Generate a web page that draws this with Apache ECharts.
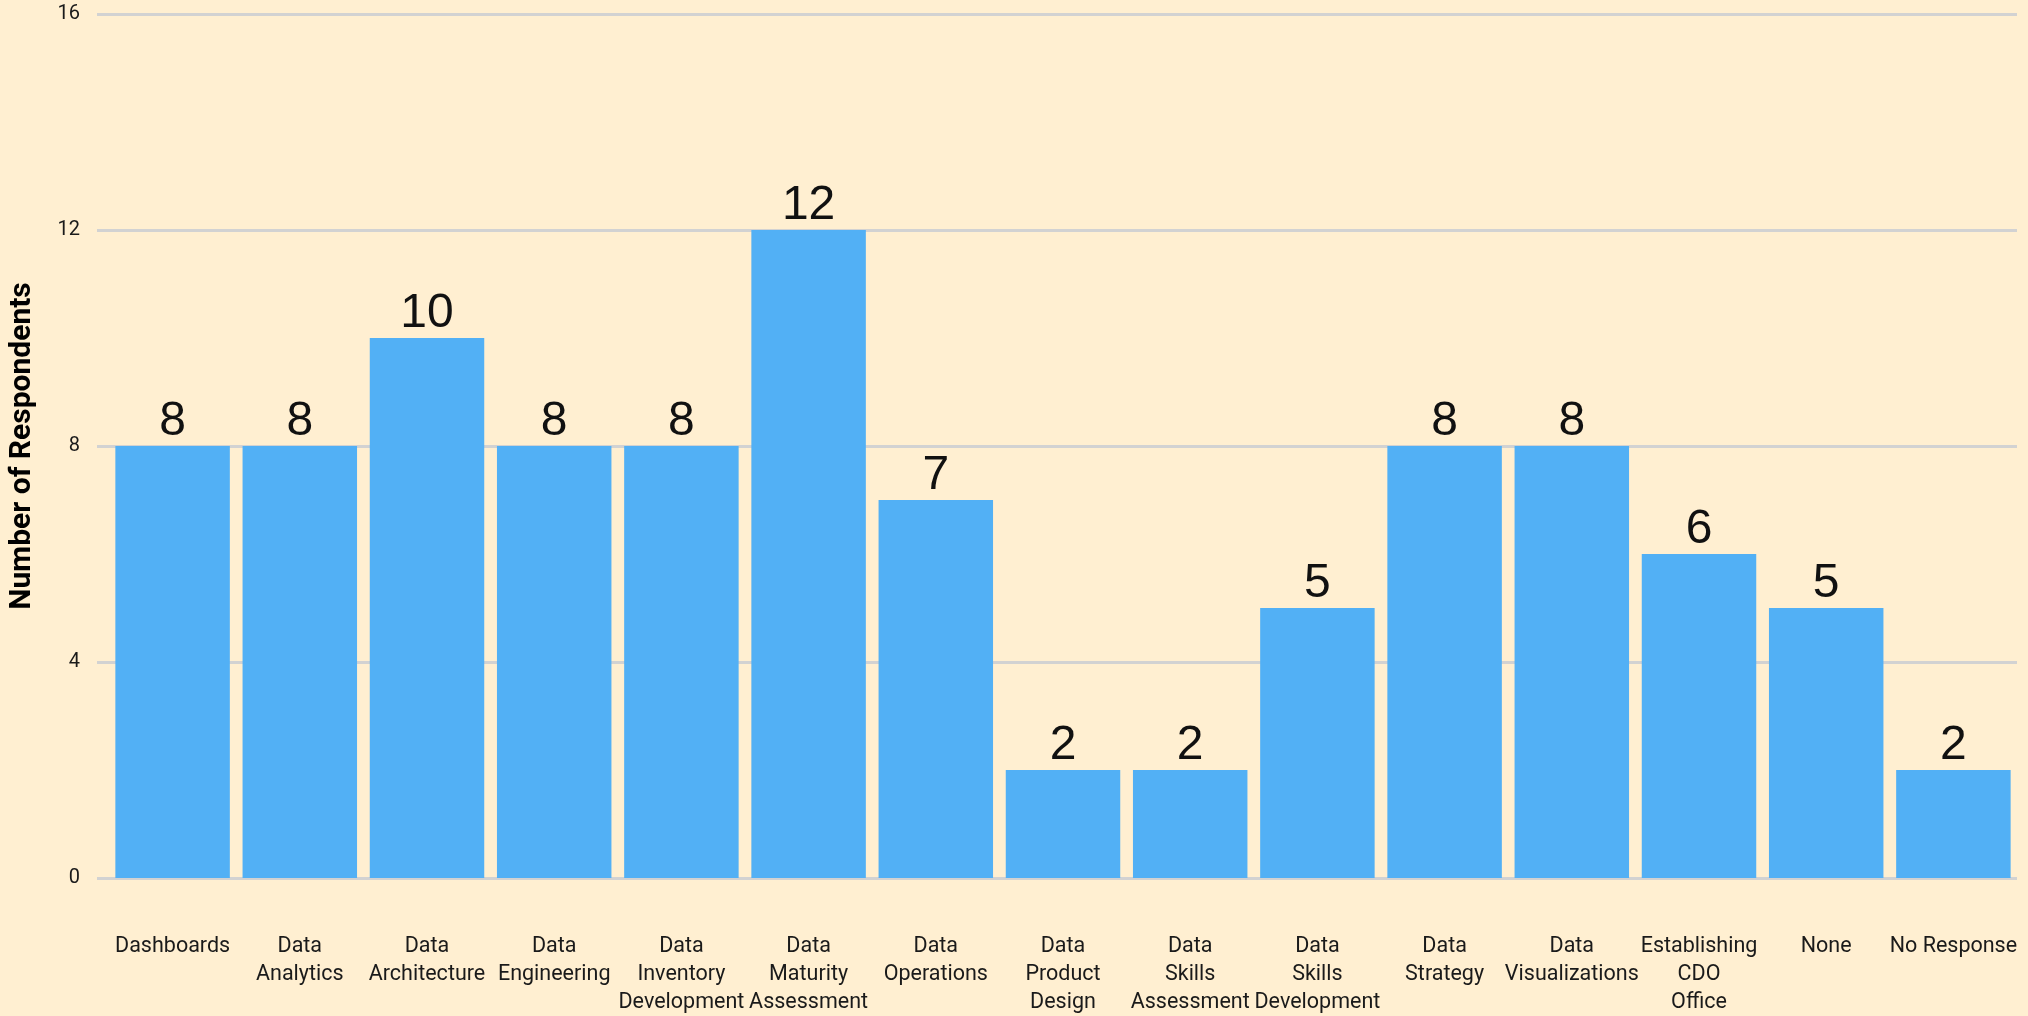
<!DOCTYPE html>
<html>
<head>
<meta charset="utf-8">
<script src="https://cdn.jsdelivr.net/npm/echarts@6/dist/echarts.min.js"></script>
<style>
  html, body { margin: 0; padding: 0; background: #ffefd1; }
  #bar { width: 2028px; height: 1016px; }
</style>
</head>
<body>
<div id="bar"></div>
<script>
// categories and counts
const categories = [
  'Dashboards', 'Data\nAnalytics', 'Data\nArchitecture', 'Data\nEngineering',
  'Data\nInventory\nDevelopment', 'Data\nMaturity\nAssessment', 'Data\nOperations',
  'Data\nProduct\nDesign', 'Data\nSkills\nAssessment', 'Data\nSkills\nDevelopment',
  'Data\nStrategy', 'Data\nVisualizations', 'Establishing\nCDO\nOffice', 'None', 'No Response'
]
const respondents = [8, 8, 10, 8, 8, 12, 7, 2, 2, 5, 8, 8, 6, 5, 2]
const yTicks = [0, 4, 8, 12, 16]

let myChart = echarts.init(document.getElementById('bar'))

let opt = {
  backgroundColor: '#ffefd1',
  animation: false,
  grid: {
    left: 109,
    right: 11,
    top: 14,
    bottom: 138,
    outerBoundsMode: 'none'
  },
  xAxis: {
    type: 'category',
    data: categories,
    axisLine: { show: false },
    axisTick: { show: false },
    axisLabel: {
      interval: 0,
      margin: 55,
      color: '#1a1a1a',
      fontFamily: 'Roboto',
      fontSize: 21.5,
      lineHeight: 28
    }
  },
  yAxis: {
    type: 'value',
    min: yTicks[0],
    max: yTicks[yTicks.length - 1],
    interval: 4,
    name: 'Number of Respondents',
    nameLocation: 'middle',
    nameGap: 72,
    nameTextStyle: {
      fontFamily: 'Roboto',
      fontWeight: 'bold',
      fontSize: 30,
      color: '#000'
    },
    axisLine: { show: false },
    axisTick: {
      show: true,
      length: 12,
      lineStyle: { color: '#d2d2d2', width: 3 }
    },
    axisLabel: {
      margin: 29,
      color: '#1a1a1a',
      fontFamily: 'Roboto',
      fontSize: 20
    },
    splitLine: {
      lineStyle: { color: '#d2d2d2', width: 3 }
    }
  },
  series: [{
    type: 'bar',
    data: respondents,
    barCategoryGap: '10%',
    itemStyle: { color: '#52b0f5' },
    label: {
      show: true,
      position: 'top',
      distance: 0,
      color: '#111',
      fontFamily: 'Liberation Sans',
      fontSize: 48
    }
  }]
}

myChart.setOption(opt)
</script>
</body>
</html>
